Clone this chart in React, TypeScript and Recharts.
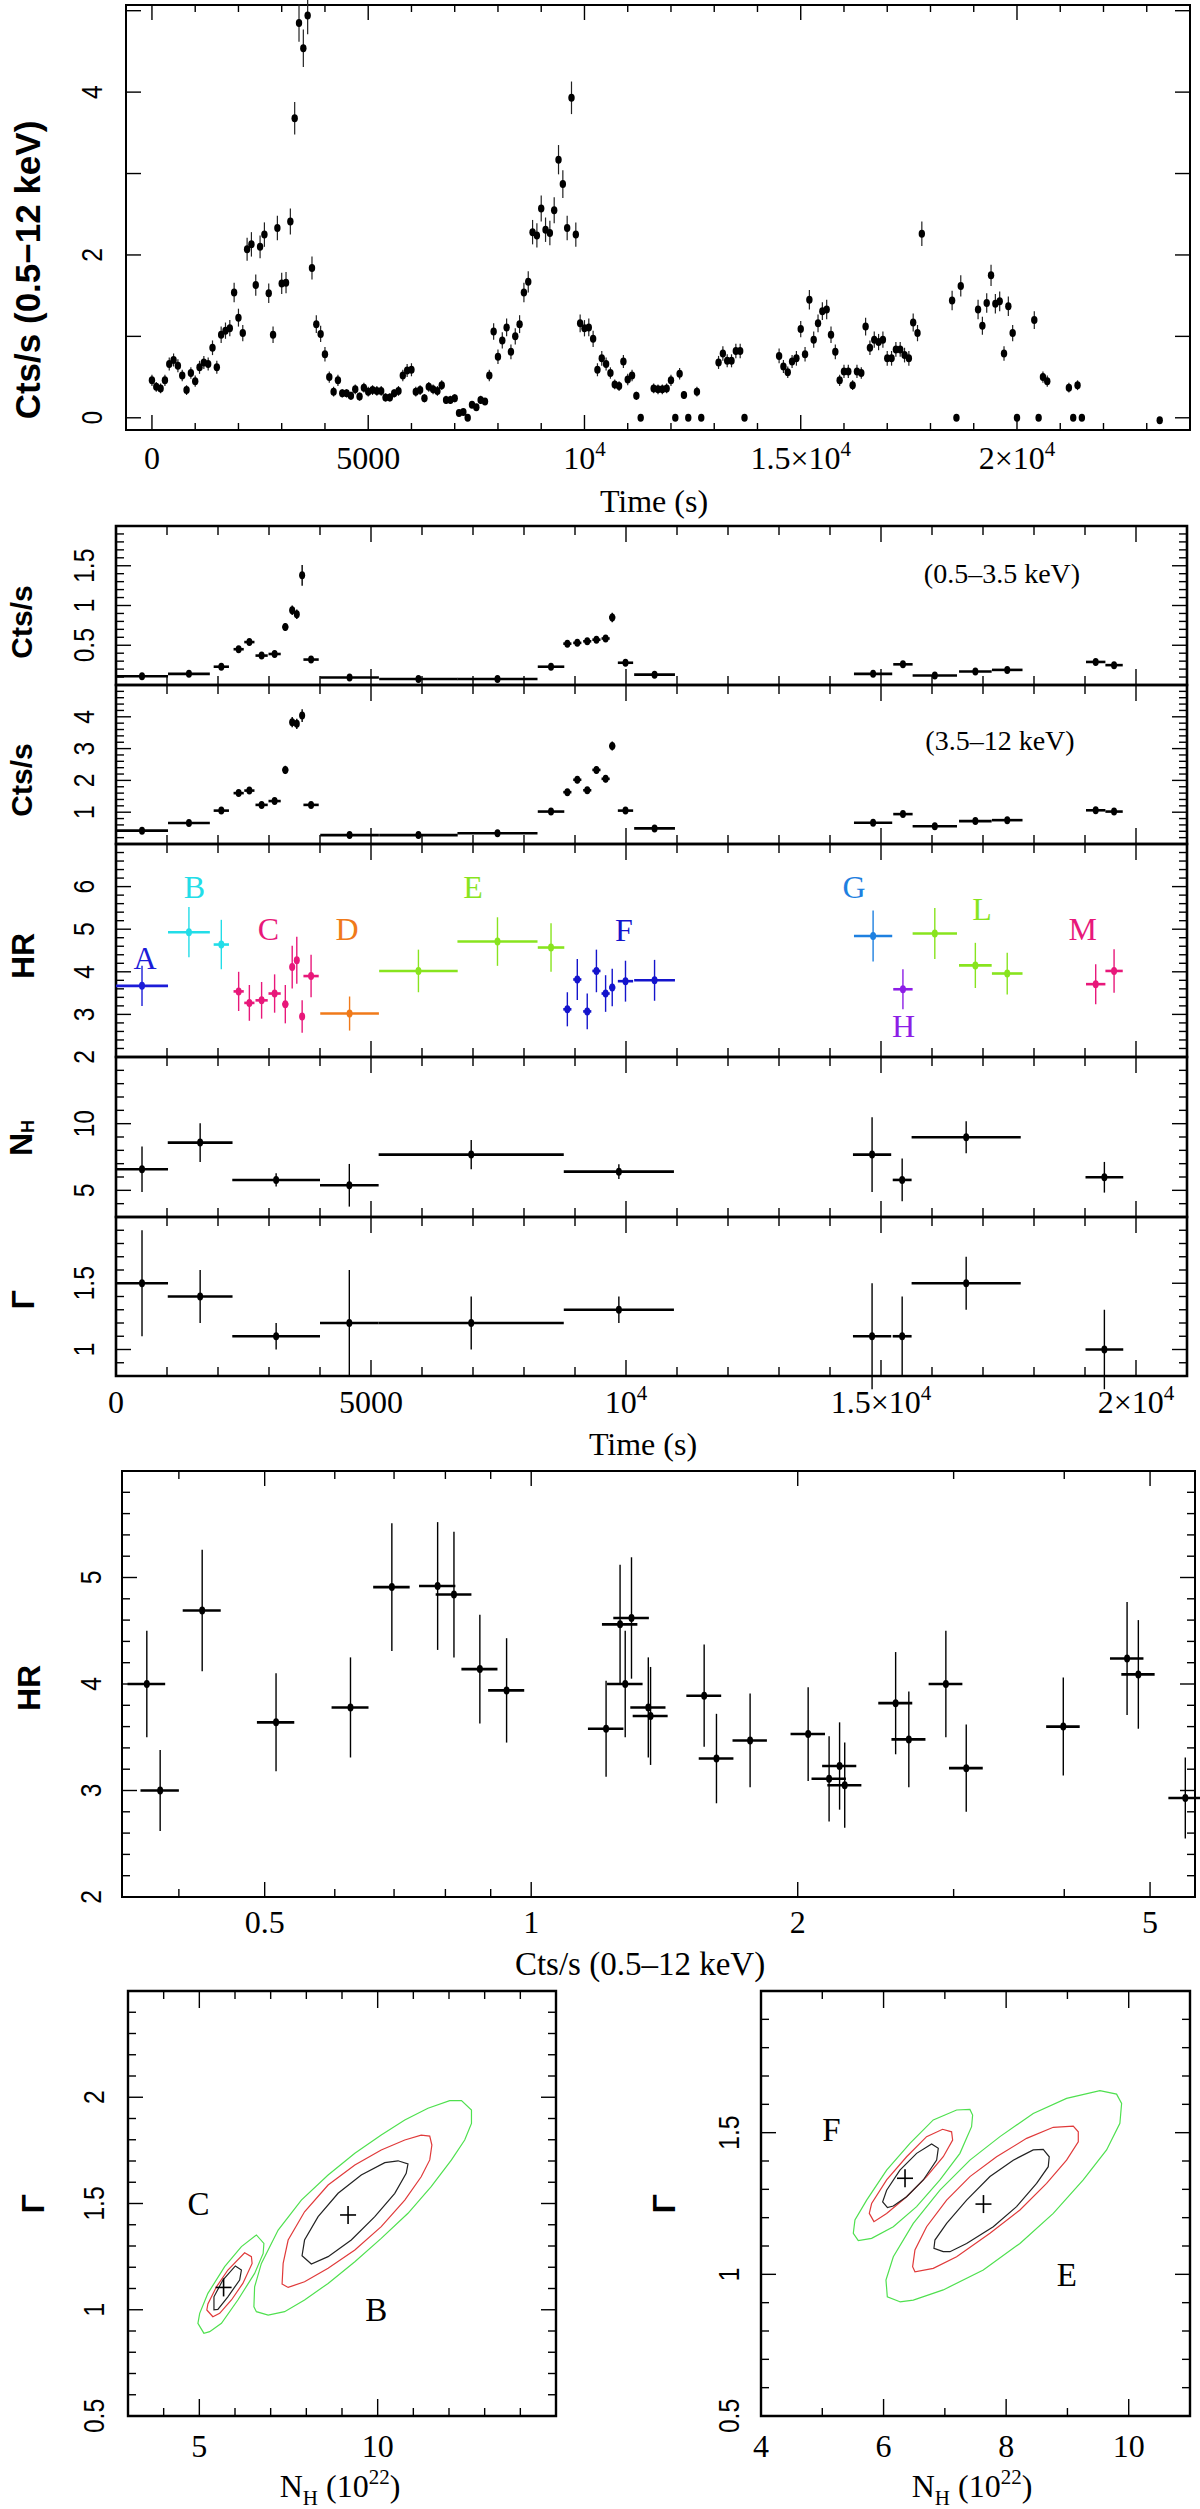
import React from 'react';
import { ScatterChart, Scatter, XAxis, YAxis, ErrorBar, ReferenceArea } from 'recharts';

const SERIF = '"Liberation Serif", "Times New Roman", serif';
const SANS = '"Liberation Sans", Arial, sans-serif';

// ---- 0.5-12 keV light curve, 100 s bins ----
const lcTime = [
  0, 100, 200, 300, 400, 500, 600, 700, 800, 900, 1000, 1100, 1200, 1300, 1400, 1500, 1600, 1700, 1800, 1900,
  2000, 2100, 2200, 2300, 2400, 2500, 2600, 2700, 2800, 2900, 3000, 3100, 3200, 3300, 3400, 3500, 3600, 3700, 3800, 3900,
  4000, 4100, 4200, 4300, 4400, 4500, 4600, 4700, 4800, 4900, 5000, 5100, 5200, 5300, 5400, 5500, 5600, 5700, 5800, 5900,
  6000, 6100, 6200, 6300, 6400, 6500, 6600, 6700, 6800, 6900, 7000, 7100, 7200, 7300, 7400, 7500, 7600, 7700, 7800, 7900,
  8000, 8100, 8200, 8300, 8400, 8500, 8600, 8700, 8800, 8900, 9000, 9100, 9200, 9300, 9400, 9500, 9600, 9700, 9800, 9900,
  10000, 10100, 10200, 10300, 10400, 10500, 10600, 10700, 10800, 10900, 11000, 11100, 11200, 11300,
  11600, 11700, 11800, 11900, 12000, 12100, 12200, 12300, 12400, 12600, 12700,
  13100, 13200, 13300, 13400, 13500, 13600, 13700,
  14500, 14600, 14700, 14800, 14900, 15000, 15100, 15200, 15300, 15400, 15500, 15600, 15700, 15800, 15900,
  16000, 16100, 16200, 16300, 16400, 16500, 16600, 16700, 16800, 16900, 17000, 17100, 17200, 17300, 17400, 17500, 17600, 17700, 17800,
  18500, 18600, 18700, 19100, 19200, 19300, 19400, 19500, 19600, 19700, 19800, 19900, 20000,
  20400, 20500, 20600, 20700, 21200, 21300, 21400, 21500, 23300,
];
const lcRate = [
  0.46, 0.38, 0.36, 0.46, 0.66, 0.71, 0.64, 0.52, 0.34, 0.55, 0.45, 0.62, 0.68, 0.66, 0.86, 0.62, 1.02, 1.07, 1.10, 1.54,
  1.23, 1.04, 2.07, 2.13, 1.63, 2.10, 2.25, 1.53, 1.02, 2.33, 1.65, 1.66, 2.41, 3.68, 4.85, 4.54, 4.94, 1.84, 1.15, 1.03,
  0.78, 0.50, 0.32, 0.46, 0.30, 0.30, 0.27, 0.35, 0.26, 0.37, 0.32, 0.34, 0.33, 0.33, 0.25, 0.25, 0.30, 0.33, 0.52, 0.58,
  0.59, 0.32, 0.34, 0.24, 0.38, 0.35, 0.33, 0.40, 0.22, 0.22, 0.24, 0.06, 0.07, 0.0, 0.16, 0.13, 0.22, 0.20, 0.52, 1.06,
  0.75, 0.95, 1.11, 0.81, 1.00, 1.15, 1.54, 1.67, 2.28, 2.24, 2.57, 2.31, 2.27, 2.55, 3.17, 2.87, 2.33, 3.93, 2.25, 1.16,
  1.10, 1.11, 0.97, 0.59, 0.73, 0.66, 0.55, 0.41, 0.39, 0.69, 0.47, 0.52, 0.27, 0.0,
  0.36, 0.35, 0.35, 0.36, 0.46, 0.0, 0.54, 0.28, 0.0, 0.32, 0.0,
  0.68, 0.79, 0.70, 0.70, 0.82, 0.82, 0.0,
  0.76, 0.63, 0.56, 0.69, 0.73, 1.09, 0.78, 1.45, 0.96, 1.16, 1.31, 1.33, 1.02, 0.81, 0.46,
  0.57, 0.57, 0.40, 0.57, 0.55, 1.12, 0.86, 0.96, 0.93, 0.96, 0.73, 0.73, 0.84, 0.84, 0.77, 0.73, 1.17, 1.04, 2.26,
  1.44, 0.0, 1.62, 1.33, 1.13, 1.41, 1.75, 1.40, 1.43, 0.79, 1.37, 1.04, 0.0,
  1.20, 0.0, 0.50, 0.45, 0.37, 0.0, 0.40, 0.0, -0.03,
];
const lcErr = [
  0.07, 0.06, 0.06, 0.07, 0.08, 0.08, 0.08, 0.07, 0.06, 0.07, 0.07, 0.08, 0.08, 0.08, 0.09, 0.08, 0.10, 0.10, 0.10, 0.12,
  0.11, 0.10, 0.14, 0.15, 0.13, 0.14, 0.15, 0.12, 0.10, 0.15, 0.13, 0.13, 0.16, 0.20, 0.23, 0.23, 0.23, 0.14, 0.11, 0.10,
  0.09, 0.07, 0.06, 0.07, 0.05, 0.05, 0.05, 0.06, 0.05, 0.06, 0.06, 0.06, 0.06, 0.06, 0.05, 0.05, 0.05, 0.06, 0.07, 0.08,
  0.08, 0.06, 0.06, 0.05, 0.06, 0.06, 0.06, 0.06, 0.05, 0.05, 0.05, 0.02, 0.03, 0.0, 0.04, 0.04, 0.05, 0.04, 0.07, 0.10,
  0.09, 0.10, 0.11, 0.09, 0.10, 0.11, 0.12, 0.13, 0.15, 0.15, 0.16, 0.15, 0.15, 0.16, 0.18, 0.17, 0.15, 0.20, 0.15, 0.11,
  0.10, 0.11, 0.10, 0.08, 0.09, 0.08, 0.07, 0.06, 0.06, 0.08, 0.07, 0.07, 0.05, 0.0,
  0.06, 0.06, 0.06, 0.06, 0.07, 0.0, 0.07, 0.05, 0.0, 0.06, 0.0,
  0.08, 0.09, 0.08, 0.08, 0.09, 0.09, 0.0,
  0.09, 0.08, 0.07, 0.08, 0.09, 0.10, 0.09, 0.12, 0.10, 0.11, 0.11, 0.12, 0.10, 0.09, 0.07,
  0.08, 0.08, 0.06, 0.08, 0.07, 0.11, 0.09, 0.10, 0.10, 0.10, 0.09, 0.09, 0.09, 0.09, 0.09, 0.09, 0.11, 0.10, 0.15,
  0.12, 0.0, 0.13, 0.12, 0.11, 0.12, 0.13, 0.12, 0.12, 0.09, 0.12, 0.10, 0.0,
  0.11, 0.0, 0.07, 0.07, 0.06, 0.0, 0.06, 0.0, 0.0,
];

// ---- binned light curves and hardness ratio ----
const binTime = [510, 1430, 2065, 2405, 2615, 2855, 3110, 3320, 3455, 3545, 3650, 3825, 4580, 5930, 7480, 8530,
  8850, 9045, 9240, 9420, 9600, 9730, 9990, 10560, 14845, 15430, 16055, 16850, 17475, 19210, 19570];
const binTimeErr = [510, 410, 150, 100, 100, 120, 120, 60, 50, 40, 50, 150, 575, 770, 785, 260,
  80, 80, 80, 80, 80, 60, 150, 400, 375, 190, 435, 320, 300, 190, 170];
const softRate = [0.11, 0.14, 0.23, 0.45, 0.54, 0.37, 0.39, 0.73, 0.94, 0.89, 1.38, 0.32, 0.095, 0.075, 0.075, 0.23,
  0.52, 0.53, 0.55, 0.57, 0.585, 0.85, 0.28, 0.13, 0.14, 0.26, 0.12, 0.17, 0.19, 0.29, 0.25];
const softErr = [0.02, 0.02, 0.03, 0.04, 0.04, 0.04, 0.04, 0.05, 0.06, 0.06, 0.13, 0.03, 0.02, 0.015, 0.015, 0.03,
  0.03, 0.03, 0.03, 0.03, 0.03, 0.06, 0.03, 0.02, 0.02, 0.03, 0.02, 0.02, 0.02, 0.03, 0.03];
const hardRate = [0.42, 0.66, 1.05, 1.60, 1.68, 1.23, 1.35, 2.33, 3.83, 3.78, 4.04, 1.23, 0.28, 0.28, 0.34, 1.02,
  1.63, 2.02, 1.69, 2.33, 2.05, 3.08, 1.05, 0.49, 0.67, 0.94, 0.56, 0.72, 0.75, 1.06, 1.02];
const hardErr = [0.05, 0.05, 0.07, 0.09, 0.1, 0.09, 0.09, 0.13, 0.16, 0.16, 0.2, 0.08, 0.04, 0.03, 0.04, 0.07,
  0.1, 0.11, 0.1, 0.12, 0.11, 0.14, 0.07, 0.05, 0.05, 0.06, 0.04, 0.04, 0.04, 0.06, 0.06];
const hrValue = [3.67, 4.93, 4.64, 3.54, 3.27, 3.33, 3.49, 3.24, 4.11, 4.27, 2.95, 3.90, 3.02, 4.02, 4.71, 4.57,
  3.12, 3.82, 3.07, 4.02, 3.49, 3.63, 3.78, 3.80, 4.84, 3.59, 4.90, 4.15, 3.96, 3.71, 4.02];
const hrErr = [0.47, 0.59, 0.58, 0.46, 0.42, 0.43, 0.45, 0.45, 0.5, 0.55, 0.38, 0.5, 0.4, 0.5, 0.57, 0.57,
  0.4, 0.48, 0.42, 0.5, 0.43, 0.44, 0.48, 0.48, 0.6, 0.47, 0.6, 0.53, 0.49, 0.47, 0.51];
const binGroup = ['A', 'B', 'B', 'C', 'C', 'C', 'C', 'C', 'C', 'C', 'C', 'C', 'D', 'E', 'E', 'E',
  'F', 'F', 'F', 'F', 'F', 'F', 'F', 'F', 'G', 'H', 'L', 'L', 'L', 'M', 'M'];
const groupNames = ['A', 'B', 'C', 'D', 'E', 'F', 'G', 'H', 'L', 'M'];
const groupColor: Record<string, string> = {
  A: '#1c1cd8', B: '#22dde8', C: '#e8187a', D: '#f07a1a', E: '#88e41e',
  F: '#1414cc', G: '#1e80e0', H: '#8c1ee6', L: '#88e41e', M: '#e8187a',
};
const hrLabelTime = [568, 1540, 2990, 4530, 7000, 9957, 14470, 15443, 16983, 18957];
const hrLabelValue = [4.33, 6.0, 5.0, 5.0, 6.0, 4.98, 6.0, 2.73, 5.47, 5.0];

// ---- spectral fits ----
const specTime = [510, 1650, 3140, 4575, 6965, 9860, 14825, 15415, 16670, 19380];
const specTimeErr = [510, 635, 860, 575, 1815, 1080, 375, 185, 1070, 370];
const nhValue = [6.58, 8.58, 5.78, 5.38, 7.68, 6.40, 7.68, 5.78, 8.98, 5.98];
const nhErr = [1.7, 1.45, 0.5, 1.6, 1.1, 0.55, 2.8, 1.6, 1.2, 1.15];
const gammaValue = [1.5, 1.4, 1.1, 1.2, 1.2, 1.3, 1.1, 1.1, 1.5, 1.0];
const gammaErr = [0.4, 0.2, 0.1, 0.4, 0.2, 0.1, 0.4, 0.3, 0.2, 0.3];

// ---- HR vs count rate ----
const ctsRate = [0.368, 0.381, 0.425, 0.515, 0.625, 0.696, 0.784, 0.818, 0.875, 0.938, 1.215, 1.26, 1.277, 1.298,
  1.356, 1.364, 1.568, 1.619, 1.767, 2.055, 2.17, 2.23, 2.26, 2.58, 2.67, 2.94, 3.10, 3.99, 4.71, 4.85, 5.48];
const ctsErr = [0.018, 0.019, 0.021, 0.025, 0.03, 0.033, 0.037, 0.038, 0.041, 0.044, 0.056, 0.058, 0.059, 0.06,
  0.062, 0.062, 0.071, 0.073, 0.079, 0.092, 0.097, 0.099, 0.1, 0.114, 0.118, 0.129, 0.136, 0.174, 0.205, 0.21, 0.236];
const hrRatio = [4.0, 3.0, 4.69, 3.64, 3.78, 4.91, 4.92, 4.84, 4.14, 3.94, 3.58, 4.56, 4.0, 4.62, 3.78, 3.70,
  3.89, 3.30, 3.47, 3.53, 3.11, 3.23, 3.05, 3.82, 3.48, 4.0, 3.21, 3.6, 4.24, 4.09, 2.93];
const hrRatioErr = [0.5, 0.38, 0.57, 0.46, 0.47, 0.6, 0.6, 0.59, 0.51, 0.49, 0.45, 0.56, 0.5, 0.57, 0.47, 0.46,
  0.48, 0.42, 0.44, 0.44, 0.4, 0.41, 0.4, 0.48, 0.45, 0.5, 0.41, 0.46, 0.53, 0.51, 0.38];

// ---- NH-Gamma confidence contours (inner, middle, outer) ----
const contourC1 = [[5.41, 1.0], [5.41, 1.061], [5.66, 1.14], [6.01, 1.206], [6.18, 1.187], [6.13, 1.14], [5.8, 1.061],
  [5.52, 1.002]];
const contourC2 = [[5.38, 0.967], [5.21, 0.999], [5.24, 1.027], [5.48, 1.108], [5.8, 1.187], [6.27, 1.268],
  [6.46, 1.25], [6.48, 1.218], [6.22, 1.124], [5.9, 1.046], [5.57, 0.983]];
const contourC3 = [[5.13, 0.889], [4.96, 0.936], [5.01, 0.983], [5.24, 1.077], [5.71, 1.203], [6.18, 1.297],
  [6.6, 1.352], [6.81, 1.312], [6.79, 1.265], [6.55, 1.171], [6.08, 1.046], [5.62, 0.936], [5.29, 0.897]];
const contourB1 = [[7.88, 1.254], [8.14, 1.215], [8.61, 1.25], [9.26, 1.328], [9.92, 1.438], [10.48, 1.548],
  [10.8, 1.642], [10.85, 1.686], [10.57, 1.701], [10.2, 1.692], [9.54, 1.634], [8.89, 1.548], [8.33, 1.438],
  [7.95, 1.328]];
const contourB2 = [[7.32, 1.121], [7.49, 1.105], [7.95, 1.132], [8.61, 1.195], [9.36, 1.281], [10.1, 1.391],
  [10.76, 1.516], [11.22, 1.626], [11.46, 1.705], [11.52, 1.775], [11.46, 1.817], [11.22, 1.822], [10.76, 1.799],
  [10.1, 1.752], [9.36, 1.681], [8.61, 1.587], [7.95, 1.461], [7.49, 1.328], [7.35, 1.218]];
const contourB3 = [[6.53, 1.014], [6.6, 0.991], [6.93, 0.975], [7.39, 0.991], [7.95, 1.046], [8.61, 1.124],
  [9.36, 1.226], [10.1, 1.336], [10.85, 1.454], [11.5, 1.579], [12.07, 1.705], [12.44, 1.799], [12.63, 1.877],
  [12.63, 1.94], [12.35, 1.984], [12.02, 1.984], [11.41, 1.948], [10.76, 1.893], [10.1, 1.822], [9.36, 1.736],
  [8.61, 1.634], [7.86, 1.516], [7.21, 1.375], [6.74, 1.218], [6.55, 1.108]];
const contourF1 = [[6.061, 1.236], [5.985, 1.256], [6.05, 1.297], [6.267, 1.368], [6.539, 1.427], [6.784, 1.46],
  [6.893, 1.445], [6.866, 1.403], [6.648, 1.333], [6.376, 1.274], [6.159, 1.241]];
const contourF2 = [[5.843, 1.186], [5.767, 1.215], [5.805, 1.25], [6.05, 1.333], [6.376, 1.415], [6.702, 1.486],
  [6.963, 1.512], [7.11, 1.503], [7.127, 1.474], [6.974, 1.415], [6.702, 1.345], [6.376, 1.274], [6.05, 1.215]];
const contourF3 = [[5.588, 1.119], [5.506, 1.145], [5.533, 1.192], [5.724, 1.262], [6.05, 1.368], [6.43, 1.462],
  [6.811, 1.545], [7.192, 1.58], [7.409, 1.582], [7.453, 1.562], [7.436, 1.521], [7.246, 1.427], [6.92, 1.333],
  [6.539, 1.239], [6.159, 1.168], [5.805, 1.127]];
const contourE1 = [[6.974, 1.08], [6.822, 1.092], [6.838, 1.121], [7.029, 1.18], [7.355, 1.262], [7.736, 1.345],
  [8.116, 1.403], [8.442, 1.439], [8.605, 1.441], [8.703, 1.415], [8.687, 1.38], [8.497, 1.321], [8.17, 1.239],
  [7.79, 1.168], [7.355, 1.109], [7.083, 1.08]];
const contourE2 = [[6.512, 1.009], [6.474, 1.027], [6.512, 1.086], [6.702, 1.168], [7.029, 1.262], [7.409, 1.345],
  [7.844, 1.415], [8.334, 1.48], [8.769, 1.519], [9.095, 1.523], [9.177, 1.503], [9.177, 1.468], [8.986, 1.403],
  [8.66, 1.321], [8.225, 1.227], [7.736, 1.145], [7.192, 1.062], [6.811, 1.021]];
const contourE3 = [[6.267, 0.903], [6.061, 0.921], [6.039, 0.98], [6.159, 1.062], [6.485, 1.18], [6.92, 1.297],
  [7.409, 1.403], [7.899, 1.486], [8.442, 1.568], [8.986, 1.621], [9.53, 1.648], [9.802, 1.636], [9.884, 1.603],
  [9.856, 1.533], [9.639, 1.439], [9.258, 1.333], [8.769, 1.215], [8.225, 1.109], [7.627, 1.015], [6.974, 0.945],
  [6.485, 0.909]];
const bestFitLeft = [[9.17, 1.446], [5.68, 1.105]];
const bestFitRight = [[6.35, 1.339], [7.63, 1.248]];
const contourLabelsLeft = [['C', 4.98, 1.5], ['B', 9.96, 1.0]];
const contourLabelsRight = [['F', 5.15, 1.509], ['E', 8.99, 0.997]];

// ---- helpers ----
function range(a: number, b: number, step: number): number[] {
  const out: number[] = [];
  const n = Math.round((b - a) / step);
  for (let i = 0; i <= n; i++) out.push(+(a + i * step).toFixed(6));
  return out;
}
const has = (arr: number[], v: number) => arr.some((m) => Math.abs(m - v) < 1e-6);

const sup = (base: string, exp: string) => (
  <>
    {base}
    <tspan dy={-13} fontSize={21}>{exp}</tspan>
  </>
);
const fmtTime = (v: number) => {
  if (v === 0) return '0';
  if (v === 5000) return '5000';
  if (v === 10000) return sup('10', '4');
  if (v === 15000) return sup('1.5×10', '4');
  if (v === 20000) return sup('2×10', '4');
  return String(v);
};
const fmtNum = (v: number) => String(v);

interface AxisSpec {
  domain: [number, number];
  ticks: number[];
  major: number[];
  labeled?: number[];
  fmt?: (v: number) => React.ReactNode;
  log?: boolean;
  majorLen?: number;
  minorLen?: number;
  offset?: number;
}

const PAD = 70;

function Panel(props: {
  left: number; top: number; width: number; height: number;
  xa: AxisSpec; ya: AxisSpec; frame?: number; children?: React.ReactNode;
}) {
  const { left, top, width, height, xa, ya, frame = 2, children } = props;
  const pl = PAD;
  const pt = PAD;
  const pr = PAD + width;
  const pb = PAD + height;

  const xTick = (p: any) => {
    const v = Number(p.payload.value);
    const cx = p.x;
    const major = has(xa.major, v);
    const len = major ? (xa.majorLen ?? 15) : (xa.minorLen ?? 8);
    const show = xa.fmt && has(xa.labeled ?? xa.major, v);
    return (
      <g>
        <line x1={cx} x2={cx} y1={pb} y2={pb - len} stroke="#000" strokeWidth={1.4} />
        <line x1={cx} x2={cx} y1={pt} y2={pt + len} stroke="#000" strokeWidth={1.4} />
        {show && (
          <text x={cx} y={pb + (xa.offset ?? 38)} textAnchor="middle" fontFamily={SERIF} fontSize={32} fill="#000">
            {xa.fmt!(v)}
          </text>
        )}
      </g>
    );
  };

  const yTick = (p: any) => {
    const v = Number(p.payload.value);
    const cy = p.y;
    const major = has(ya.major, v);
    const len = major ? (ya.majorLen ?? 15) : (ya.minorLen ?? 8);
    const show = ya.fmt && has(ya.labeled ?? ya.major, v);
    return (
      <g>
        <line x1={pl} x2={pl + len} y1={cy} y2={cy} stroke="#000" strokeWidth={1.4} />
        <line x1={pr} x2={pr - len} y1={cy} y2={cy} stroke="#000" strokeWidth={1.4} />
        {show && (
          <text
            transform={`translate(${pl - (ya.offset ?? 33)},${cy}) rotate(-90) scale(0.82,1)`}
            textAnchor="middle"
            dominantBaseline="central"
            fontFamily={SANS}
            fontSize={30}
            fill="#000"
          >
            {ya.fmt!(v)}
          </text>
        )}
      </g>
    );
  };

  return (
    <div style={{ position: 'absolute', left: left - PAD, top: top - PAD }}>
      <ScatterChart
        width={width + 2 * PAD}
        height={height + 2 * PAD}
        margin={{ top: PAD, right: PAD, bottom: 0, left: 0 }}
      >
        <XAxis
          type="number"
          dataKey="x"
          domain={xa.domain}
          scale={xa.log ? 'log' : 'linear'}
          allowDataOverflow
          ticks={xa.ticks}
          interval={0}
          tick={xTick}
          tickLine={false}
          axisLine={false}
          height={PAD}
        />
        <YAxis
          type="number"
          dataKey="y"
          domain={ya.domain}
          allowDataOverflow
          ticks={ya.ticks}
          interval={0}
          tick={yTick}
          tickLine={false}
          axisLine={false}
          width={PAD}
        />
        {children}
        <ReferenceArea
          x1={xa.domain[0]}
          x2={xa.domain[1]}
          y1={ya.domain[0]}
          y2={ya.domain[1]}
          fill="none"
          fillOpacity={0}
          stroke="#000"
          strokeWidth={frame}
          ifOverflow="visible"
        />
      </ScatterChart>
    </div>
  );
}

const dot = (color: string, rx = 3.2, ry = 4.2) => (p: any) => (
  <ellipse cx={p.cx} cy={p.cy} rx={rx} ry={ry} fill={color} />
);
const none = () => <g />;
const cross = (p: any) => (
  <g stroke="#000" strokeWidth={1.6}>
    <line x1={p.cx - 8} x2={p.cx + 8} y1={p.cy} y2={p.cy} />
    <line x1={p.cx} x2={p.cx} y1={p.cy - 9} y2={p.cy + 9} />
  </g>
);
const letter = (size: number) => (p: any) => (
  <text
    x={p.cx}
    y={p.cy}
    textAnchor="middle"
    dominantBaseline="central"
    fontFamily={SERIF}
    fontSize={size}
    fill={p.payload.color}
  >
    {p.payload.label}
  </text>
);

const timeTicksStack = range(0, 21000, 1000);
const stackX = (labels: boolean): AxisSpec => ({
  domain: [0, 21000],
  ticks: timeTicksStack,
  major: [0, 5000, 10000, 15000, 20000],
  fmt: labels ? fmtTime : undefined,
  majorLen: 16,
  minorLen: 9,
  offset: 37,
});

const lcData = lcTime.map((t, i) => ({ x: t, y: lcRate[i], ey: lcErr[i] }));
const softData = binTime.map((t, i) => ({ x: t, ex: binTimeErr[i], y: softRate[i], ey: softErr[i] }));
const hardData = binTime.map((t, i) => ({ x: t, ex: binTimeErr[i], y: hardRate[i], ey: hardErr[i] }));
const hrGroups = groupNames.map((g) => ({
  name: g,
  data: binTime
    .map((t, i) => ({ x: t, ex: binTimeErr[i], y: hrValue[i], ey: hrErr[i], g: binGroup[i] }))
    .filter((d) => d.g === g),
}));
const hrLabelData = groupNames.map((g, i) => ({ x: hrLabelTime[i], y: hrLabelValue[i], label: g, color: groupColor[g] }));
const nhData = specTime.map((t, i) => ({ x: t, ex: specTimeErr[i], y: nhValue[i], ey: nhErr[i] }));
const gammaData = specTime.map((t, i) => ({ x: t, ex: specTimeErr[i], y: gammaValue[i], ey: gammaErr[i] }));
const hrcData = ctsRate.map((c, i) => ({ x: c, ex: ctsErr[i], y: hrRatio[i], ey: hrRatioErr[i] }));
const toXY = (arr: number[][]) => arr.map(([x, y]) => ({ x, y }));
const toLabels = (arr: (string | number)[][]) =>
  arr.map(([label, x, y]) => ({ x: x as number, y: y as number, label, color: '#000' }));

const GREEN = '#4fe04f';
const RED = '#e03a3a';
const DARK = '#222';

function BinnedSeries({ data, color }: { data: any[]; color: string }) {
  return (
    <Scatter data={data} shape={dot(color, 3, 4)} isAnimationActive={false}>
      <ErrorBar dataKey="ex" direction="x" width={0} stroke={color} strokeWidth={2.6} isAnimationActive={false} />
      <ErrorBar dataKey="ey" direction="y" width={0} stroke={color} strokeWidth={1.4} isAnimationActive={false} />
    </Scatter>
  );
}

function Contour({ data, color }: { data: number[][]; color: string }) {
  return (
    <Scatter
      data={toXY(data)}
      shape={none}
      line={{ stroke: color, strokeWidth: 1.2, fill: 'none' }}
      lineJointType="linearClosed"
      isAnimationActive={false}
    />
  );
}

const rotLabel = (x: number, y: number, content: React.ReactNode, size = 30, family = SANS, weight = 'bold') => (
  <text
    transform={`translate(${x},${y}) rotate(-90)`}
    textAnchor="middle"
    dominantBaseline="central"
    fontFamily={family}
    fontSize={size}
    fontWeight={weight}
    fill="#000"
  >
    {content}
  </text>
);

export default function App() {
  const stackTops = [526, 685, 844, 1057, 1217, 1376];
  return (
    <div style={{ position: 'absolute', left: 0, top: 0, width: 1200, height: 2509, background: '#fff', overflow: 'hidden' }}>
      {/* top light curve */}
      <Panel
        left={126}
        top={5}
        width={1064}
        height={425}
        frame={2}
        xa={{ domain: [-600, 24000], ticks: range(0, 23000, 1000), major: [0, 5000, 10000, 15000, 20000], fmt: fmtTime, majorLen: 15, minorLen: 7, offset: 39 }}
        ya={{ domain: [-0.15, 5.07], ticks: [0, 1, 2, 3, 4, 5], major: [0, 1, 2, 3, 4, 5], labeled: [0, 2, 4], fmt: fmtNum, offset: 34 }}
      >
        <Scatter data={lcData} shape={dot('#000', 3.2, 4)} isAnimationActive={false}>
          <ErrorBar dataKey="ey" direction="y" width={0} stroke="#222" strokeWidth={1.2} isAnimationActive={false} />
        </Scatter>
      </Panel>

      {/* 0.5-3.5 keV */}
      <Panel
        left={116}
        top={stackTops[0]}
        width={1071}
        height={stackTops[1] - stackTops[0]}
        frame={2.6}
        xa={stackX(false)}
        ya={{ domain: [0, 2], ticks: range(0.1, 1.9, 0.1), major: [0.5, 1, 1.5], fmt: fmtNum, offset: 32 }}
      >
        <BinnedSeries data={softData} color="#000" />
      </Panel>

      {/* 3.5-12 keV */}
      <Panel
        left={116}
        top={stackTops[1]}
        width={1071}
        height={stackTops[2] - stackTops[1]}
        frame={2.6}
        xa={stackX(false)}
        ya={{ domain: [0, 5], ticks: range(0.2, 4.8, 0.2), major: [1, 2, 3, 4], fmt: fmtNum, offset: 32 }}
      >
        <BinnedSeries data={hardData} color="#000" />
      </Panel>

      {/* hardness ratio */}
      <Panel
        left={116}
        top={stackTops[2]}
        width={1071}
        height={stackTops[3] - stackTops[2]}
        frame={2.6}
        xa={stackX(false)}
        ya={{ domain: [2, 7], ticks: range(2, 6.8, 0.2), major: [2, 3, 4, 5, 6], fmt: fmtNum, offset: 32 }}
      >
        {hrGroups.map((g) => (
          <BinnedSeries key={g.name} data={g.data} color={groupColor[g.name]} />
        ))}
        <Scatter data={hrLabelData} shape={letter(32)} isAnimationActive={false} />
      </Panel>

      {/* NH */}
      <Panel
        left={116}
        top={stackTops[3]}
        width={1071}
        height={stackTops[4] - stackTops[3]}
        frame={2.6}
        xa={stackX(false)}
        ya={{ domain: [3, 15], ticks: range(4, 14, 1), major: [5, 10], fmt: fmtNum, offset: 32 }}
      >
        <BinnedSeries data={nhData} color="#000" />
      </Panel>

      {/* photon index */}
      <Panel
        left={116}
        top={stackTops[4]}
        width={1071}
        height={stackTops[5] - stackTops[4]}
        frame={2.6}
        xa={stackX(true)}
        ya={{ domain: [0.8, 2], ticks: range(0.9, 1.9, 0.1), major: [1, 1.5], fmt: fmtNum, offset: 32 }}
      >
        <BinnedSeries data={gammaData} color="#000" />
      </Panel>

      {/* HR vs count rate */}
      <Panel
        left={122}
        top={1471}
        width={1073}
        height={426}
        frame={2}
        xa={{ domain: [0.345, 5.62], log: true, ticks: [0.4, 0.5, 0.6, 0.7, 0.8, 0.9, 1, 2, 3, 4, 5], major: [0.5, 1, 2, 5], fmt: fmtNum, offset: 36 }}
        ya={{ domain: [2, 6], ticks: range(2, 5.8, 0.2), major: [2, 3, 4, 5], fmt: fmtNum, offset: 31 }}
      >
        <BinnedSeries data={hrcData} color="#000" />
      </Panel>

      {/* contours B, C */}
      <Panel
        left={128}
        top={1991}
        width={428}
        height={425}
        frame={2.4}
        xa={{ domain: [3, 15], ticks: range(4, 14, 1), major: [5, 10], fmt: fmtNum, offset: 41, majorLen: 17 }}
        ya={{ domain: [0.5, 2.5], ticks: range(0.5, 2.4, 0.1), major: [0.5, 1, 1.5, 2], fmt: fmtNum, offset: 34 }}
      >
        <Contour data={contourB3} color={GREEN} />
        <Contour data={contourB2} color={RED} />
        <Contour data={contourB1} color={DARK} />
        <Contour data={contourC3} color={GREEN} />
        <Contour data={contourC2} color={RED} />
        <Contour data={contourC1} color={DARK} />
        <Scatter data={toXY(bestFitLeft)} shape={cross} isAnimationActive={false} />
        <Scatter data={toLabels(contourLabelsLeft)} shape={letter(33)} isAnimationActive={false} />
      </Panel>

      {/* contours E, F */}
      <Panel
        left={761}
        top={1991}
        width={429}
        height={425}
        frame={2.4}
        xa={{ domain: [4, 11], ticks: range(4, 10, 1), major: [4, 6, 8, 10], fmt: fmtNum, offset: 41, majorLen: 17 }}
        ya={{ domain: [0.5, 2], ticks: range(0.5, 1.9, 0.1), major: [0.5, 1, 1.5], fmt: fmtNum, offset: 32 }}
      >
        <Contour data={contourE3} color={GREEN} />
        <Contour data={contourE2} color={RED} />
        <Contour data={contourE1} color={DARK} />
        <Contour data={contourF3} color={GREEN} />
        <Contour data={contourF2} color={RED} />
        <Contour data={contourF1} color={DARK} />
        <Scatter data={toXY(bestFitRight)} shape={cross} isAnimationActive={false} />
        <Scatter data={toLabels(contourLabelsRight)} shape={letter(33)} isAnimationActive={false} />
      </Panel>

      {/* axis titles */}
      <svg width={1200} height={2509} style={{ position: 'absolute', left: 0, top: 0, pointerEvents: 'none' }}>
        {rotLabel(27, 270, 'Cts/s (0.5−12 keV)', 35)}
        <text x={654} y={512} textAnchor="middle" fontFamily={SERIF} fontSize={32}>Time (s)</text>

        {rotLabel(21, 622, 'Cts/s', 30)}
        {rotLabel(21, 780, 'Cts/s', 30)}
        {rotLabel(23, 956, 'HR', 32)}
        {rotLabel(21, 1138, <>N<tspan fontSize={18} dy={7}>H</tspan></>, 32)}
        {rotLabel(23, 1300, 'Γ', 32)}
        <text x={1002} y={583} textAnchor="middle" fontFamily={SERIF} fontSize={28}>(0.5–3.5 keV)</text>
        <text x={1000} y={750} textAnchor="middle" fontFamily={SERIF} fontSize={28}>(3.5–12 keV)</text>
        <text x={643} y={1455} textAnchor="middle" fontFamily={SERIF} fontSize={32}>Time (s)</text>

        {rotLabel(29, 1688, 'HR', 32)}
        <text x={640} y={1975} textAnchor="middle" fontFamily={SERIF} fontSize={33}>Cts/s (0.5–12 keV)</text>

        {rotLabel(33, 2204, 'Γ', 32)}
        {rotLabel(664, 2204, 'Γ', 32)}
        <text x={340} y={2497} textAnchor="middle" fontFamily={SERIF} fontSize={32}>
          N<tspan fontSize={21} dy={8}>H</tspan>
          <tspan dy={-8}> (10</tspan>
          <tspan fontSize={21} dy={-13}>22</tspan>
          <tspan dy={13}>)</tspan>
        </text>
        <text x={972} y={2497} textAnchor="middle" fontFamily={SERIF} fontSize={32}>
          N<tspan fontSize={21} dy={8}>H</tspan>
          <tspan dy={-8}> (10</tspan>
          <tspan fontSize={21} dy={-13}>22</tspan>
          <tspan dy={13}>)</tspan>
        </text>
      </svg>
    </div>
  );
}
